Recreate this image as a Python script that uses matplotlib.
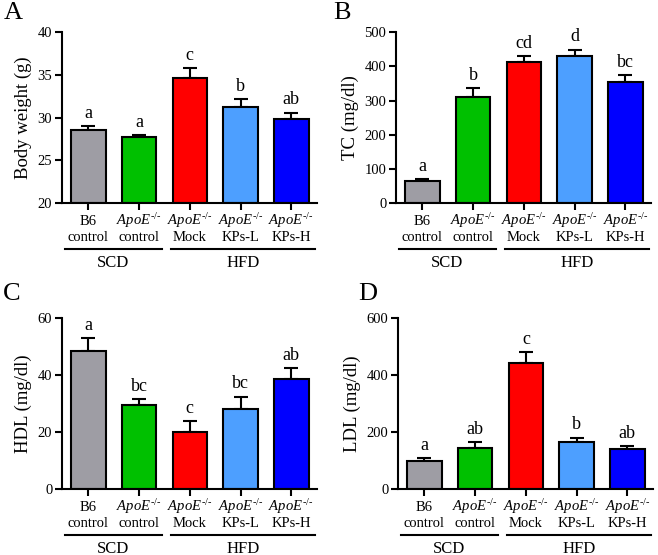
import numpy as np
import matplotlib
matplotlib.use("Agg")
import matplotlib.pyplot as plt

plt.rcParams["font.family"] = "Liberation Serif"
plt.rcParams["mathtext.fontset"] = "custom"
plt.rcParams["mathtext.rm"] = "Liberation Serif"
plt.rcParams["mathtext.it"] = "Liberation Serif:italic"

# data
APOE = "$\\mathit{ApoE}^{\u2010/\u2010}$"
line1 = ["B6", APOE, APOE, APOE, APOE]
line2 = ["control", "control", "Mock", "KPs-L", "KPs-H"]
colors = ["#9e9da4", "#00c000", "#ff0000", "#4d9fff", "#0000ff"]

bw_mean = [28.6, 27.7, 34.6, 31.2, 29.9]
bw_err = [0.4, 0.25, 1.2, 1.0, 0.7]
bw_sig = ["a", "a", "c", "b", "ab"]

tc_mean = [64, 311, 412, 430, 353]
tc_err = [6, 26, 18, 19, 22]
tc_sig = ["a", "b", "cd", "d", "bc"]

hdl_mean = [48.5, 29.4, 20.0, 28.1, 38.7]
hdl_err = [4.5, 2.2, 3.7, 4.3, 3.8]
hdl_sig = ["a", "bc", "c", "bc", "ab"]

ldl_mean = [97, 144, 442, 165, 140]
ldl_err = [12, 20, 39, 15, 11]
ldl_sig = ["a", "ab", "c", "b", "ab"]

panels = [
    ("A", "Body weight (g)", bw_mean, bw_err, bw_sig, (20, 40), [20, 25, 30, 35, 40],
     [0.0942, 0.634], (0.005, 0.977)),
    ("B", "TC (mg/dl)", tc_mean, tc_err, tc_sig, (0, 500), [0, 100, 200, 300, 400, 500],
     [0.602, 0.634], (0.506, 0.977)),
    ("C", "HDL (mg/dl)", hdl_mean, hdl_err, hdl_sig, (0, 60), [0, 20, 40, 60],
     [0.0942, 0.119], (0.005, 0.471)),
    ("D", "LDL (mg/dl)", ldl_mean, ldl_err, ldl_sig, (0, 600), [0, 200, 400, 600],
     [0.605, 0.119], (0.544, 0.471)),
]

fig = plt.figure(figsize=(6.58, 5.55), dpi=100)

for letter, ylabel, mean, err, sig, ylim, yticks, (left, bottom), lpos in panels:
    ax = fig.add_axes([left, bottom, 0.387, 0.308])
    x = np.arange(len(mean))
    lo = ylim[0]
    ax.bar(x, np.array(mean) - lo, bottom=lo, width=0.68, color=colors,
           edgecolor="black", linewidth=1.5, zorder=2)
    ax.errorbar(x, mean, yerr=[np.zeros(len(err)), err], fmt="none",
                ecolor="black", elinewidth=1.5, capsize=5, capthick=1.5, zorder=1)
    span = ylim[1] - ylim[0]
    for xi, m, e, s in zip(x, mean, err, sig):
        ax.text(xi, m + e + span * 0.025, s, ha="center", va="bottom", fontsize=13)
    ax.set_xlim(-0.52, 4.5)
    ax.set_ylim(*ylim)
    ax.set_yticks(yticks)
    ax.set_xticks(x)
    ax.set_xticklabels([])
    ax.set_ylabel(ylabel, fontsize=13.5, labelpad=4)
    for sp in ["top", "right"]:
        ax.spines[sp].set_visible(False)
    for sp in ["left", "bottom"]:
        ax.spines[sp].set_linewidth(1.5)
    ax.tick_params(axis="both", width=1.5, length=5, direction="out")
    ax.tick_params(axis="y", labelsize=10.5, pad=2)

    tr = ax.get_xaxis_transform()
    # two-line category labels
    for xi, t1, t2 in zip(x, line1, line2):
        ax.text(xi, -0.13, t1, ha="center", va="baseline", fontsize=10.5, transform=tr)
        ax.text(xi, -0.222, t2, ha="center", va="baseline", fontsize=10.5, transform=tr)

    # diet group bars below the tick labels
    ax.plot([-0.47, 1.45], [-0.271, -0.271], color="black", lw=1.5, transform=tr, clip_on=False)
    ax.plot([1.63, 4.47], [-0.271, -0.271], color="black", lw=1.5, transform=tr, clip_on=False)
    ax.text(0.49, -0.372, "SCD", ha="center", va="baseline", fontsize=12, transform=tr)
    ax.text(3.05, -0.372, "HFD", ha="center", va="baseline", fontsize=12, transform=tr)

    fig.text(lpos[0], lpos[1], letter, fontsize=19, ha="left", va="center")

fig.savefig("out.png", dpi=100)
